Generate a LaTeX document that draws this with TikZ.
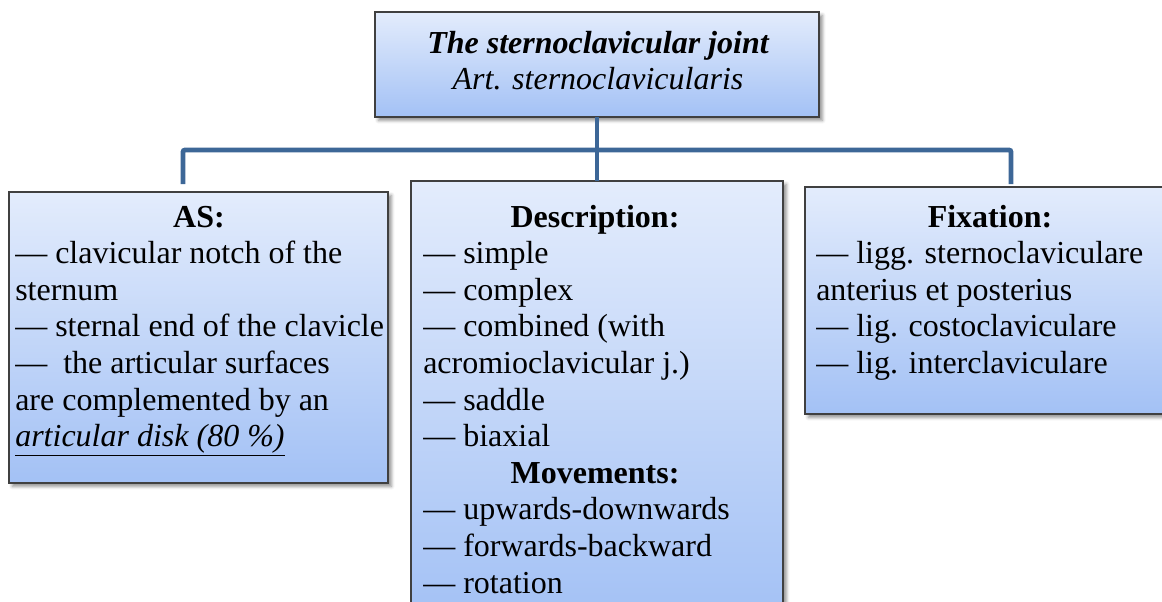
\documentclass[tikz,border=0pt]{standalone}
\usepackage{fontspec}
\setmainfont{Liberation Serif}
\usetikzlibrary{fit,shadows.blur}

\definecolor{boxtop}{HTML}{E3ECFC}
\definecolor{boxbot}{HTML}{A3C1F5}
\definecolor{boxline}{HTML}{404040}
\definecolor{linkblue}{HTML}{3D6797}

\tikzset{
  panel/.style={draw=boxline, line width=0.8pt, top color=boxtop, bottom color=boxbot,
    inner sep=0pt, outer sep=0pt,
    blur shadow={shadow xshift=2.5pt, shadow yshift=-2.5pt, shadow blur radius=2.5pt, shadow opacity=45}},
  link/.style={draw=linkblue, line width=3.6pt, rounded corners=1.5pt},
  txt/.style={anchor=base west, inner sep=0pt, font=\fontsize{24}{27.5}\selectfont},
  head/.style={anchor=base, inner sep=0pt, font=\fontsize{24}{27.5}\selectfont\bfseries},
}

\begin{document}
\begin{tikzpicture}[x=0.75pt,y=-0.75pt]
\useasboundingbox (0,0) rectangle (1162,601);

% panels
\node[panel, fit={(375,12) (819,117)}] (top) {};
\node[panel, fit={(9,192) (388,483)}] (as) {};
\node[panel, fit={(411,181) (783,618)}] (desc) {};
\node[panel, fit={(805,187) (1175,414)}] (fix) {};

% connectors
\coordinate (hub) at (597,150);
\coordinate (dropL) at (183,184);
\coordinate (dropR) at (1011,184);
\draw[link] (top.south) -- (desc.north);
\draw[link] (dropL) |- (hub) -| (dropR);

% title
\node[anchor=base, inner sep=0pt, font=\fontsize{24}{27.5}\selectfont\bfseries\itshape] (t1) at (598,53) {The sternoclavicular joint};
\node[anchor=base, inner sep=0pt, font=\fontsize{24}{27.5}\selectfont\itshape] (t2) at (598,89) {Art. sternoclavicularis};

% articular surfaces
\node[head] (ash) at (199,227) {AS:};
\foreach \t [count=\i] in {
  {— clavicular notch of the},
  {sternum},
  {— sternal end of the clavicle},
  {—\hspace{0.5em}the articular surfaces},
  {are complemented by an},
  {\underline{\textit{articular disk (80 \%)}}}}
  \node[txt] (as\i) at (15,{227+36.6*\i}) {\t};

% description and movements
\node[head] (desch) at (595,227) {Description:};
\foreach \t [count=\i] in {
  {— simple},
  {— complex},
  {— combined (with},
  {acromioclavicular j.)},
  {— saddle},
  {— biaxial}}
  \node[txt] (desc\i) at (423,{227+36.6*\i}) {\t};
\node[head] (movh) at (595,{227+36.6*7}) {Movements:};
\foreach \t [count=\i] in {
  {— upwards-downwards},
  {— forwards-backward},
  {— rotation}}
  \node[txt] (mov\i) at (423,{227+36.6*(\i+7)}) {\t};

% fixation
\node[head] (fixh) at (990,227) {Fixation:};
\foreach \t [count=\i] in {
  {— ligg. sternoclaviculare},
  {anterius et posterius},
  {— lig. costoclaviculare},
  {— lig. interclaviculare}}
  \node[txt] (fix\i) at (816,{227+36.6*\i}) {\t};
\end{tikzpicture}
\end{document}
